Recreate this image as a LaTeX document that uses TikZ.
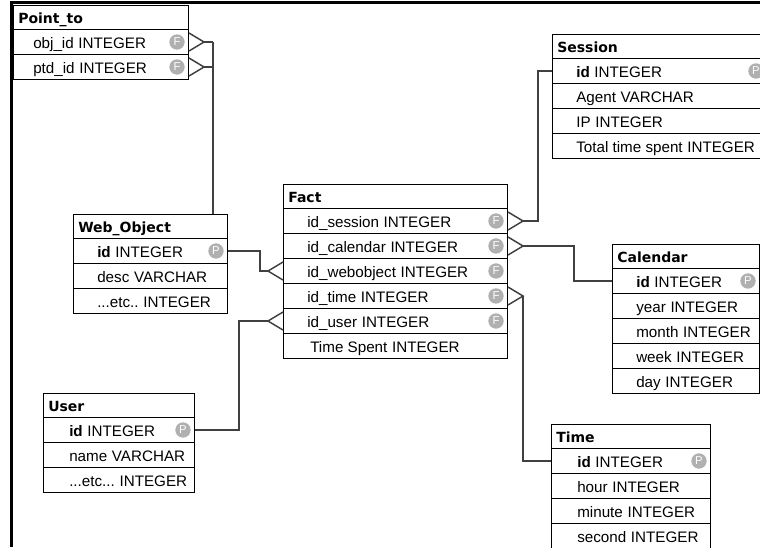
\documentclass[tikz,border=0pt]{standalone}
\usepackage{fontspec}
\setmainfont{Liberation Sans}
\newfontfamily\headfont{DejaVu Sans}
\usetikzlibrary{calc}

% gap between a column name and its type
\newcommand\colgap{\hspace{3.5pt}}
% left indent of the column rows (px), set per table
\newcommand\rowind{24}

% table header: name, x, y, width, title
\newcommand\tblhead[5]{%
  \node[headbox, minimum width=#4*0.75pt] (#1) at (#2,#3) {};
  \node[headtext] (#1-t) at ([xshift=5*0.75pt, yshift=-4.2pt]#1.west) {#5};}
% table row: name, x, y, width, text, key letter (may be empty)
\newcommand\tblrow[6]{%
  \node[box, minimum width=#4*0.75pt] (#1) at (#2,#3) {};
  \node[rowtext] (#1-t) at ([xshift=\rowind*0.75pt, yshift=-4.6pt]#1.west) {#5};
  \if\relax\detokenize{#6}\relax\else
    \node[keymark] (#1-k) at ([xshift=-12*0.75pt]#1.east) {#6};\fi}
% crow's foot on the right / left side of a row, tip named #2
\newcommand\crowR[2]{%
  \coordinate (#2) at ([xshift=11.25pt]#1.east);
  \draw[conn] ([yshift=6.75pt]#1.east) -- (#2) -- ([yshift=-6.75pt]#1.east);}
\newcommand\crowL[2]{%
  \coordinate (#2) at ([xshift=-11.25pt]#1.west);
  \draw[conn] ([yshift=6.75pt]#1.west) -- (#2) -- ([yshift=-6.75pt]#1.west);}

\begin{document}
\begin{tikzpicture}[x=0.75pt,y=-0.75pt,
  box/.style={draw=black, line width=0.75pt, fill=white, anchor=north west,
    inner sep=0pt, minimum height=18.75pt},
  headbox/.style={box, minimum height=18pt},
  headtext/.style={anchor=base west, inner sep=0pt,
    font=\headfont\bfseries\fontsize{10.5}{12}\selectfont},
  rowtext/.style={anchor=base west, inner sep=0pt, font=\fontsize{11.4}{13}\selectfont},
  keymark/.style={circle, fill=gray!62, text=white, inner sep=0pt,
    minimum size=11.5pt, font=\fontsize{8.5}{8.5}\selectfont},
  conn/.style={draw=black!75, line width=1.1pt}]
\useasboundingbox (0,0) rectangle (760,547);

% Point_to
\renewcommand\rowind{20}
\tblhead{pt-h}{13}{5}{175}{Point\_to}
\tblrow{pt-1}{13}{29}{175}{obj\_id\colgap INTEGER}{F}
\tblrow{pt-2}{13}{54}{175}{ptd\_id\colgap INTEGER}{F}

% Session
\renewcommand\rowind{24}
\tblhead{se-h}{552}{34}{215}{Session}
\tblrow{se-1}{552}{58}{215}{\textbf{id}\colgap INTEGER}{P}
\tblrow{se-2}{552}{83}{215}{Agent\colgap VARCHAR}{}
\tblrow{se-3}{552}{108}{215}{IP\colgap INTEGER}{}
\tblrow{se-4}{552}{133}{215}{Total time spent\colgap INTEGER}{}

% Fact
\tblhead{fa-h}{283}{184}{224}{Fact}
\tblrow{fa-1}{283}{208}{224}{id\_session\colgap INTEGER}{F}
\tblrow{fa-2}{283}{233}{224}{id\_calendar\colgap INTEGER}{F}
\tblrow{fa-3}{283}{258}{224}{id\_webobject\colgap INTEGER}{F}
\tblrow{fa-4}{283}{283}{224}{id\_time\colgap INTEGER}{F}
\tblrow{fa-5}{283}{308}{224}{id\_user\colgap INTEGER}{F}
\renewcommand\rowind{27}
\tblrow{fa-6}{283}{333}{224}{Time Spent\colgap INTEGER}{}

% Web_Object
\renewcommand\rowind{24}
\tblhead{wo-h}{73}{214}{154}{Web\_Object}
\tblrow{wo-1}{73}{238}{154}{\textbf{id}\colgap INTEGER}{P}
\tblrow{wo-2}{73}{263}{154}{desc\colgap VARCHAR}{}
\tblrow{wo-3}{73}{288}{154}{...etc..\colgap INTEGER}{}

% Calendar
\tblhead{ca-h}{612}{244}{147}{Calendar}
\tblrow{ca-1}{612}{268}{147}{\textbf{id}\colgap INTEGER}{P}
\tblrow{ca-2}{612}{293}{147}{year\colgap INTEGER}{}
\tblrow{ca-3}{612}{318}{147}{month\colgap INTEGER}{}
\tblrow{ca-4}{612}{343}{147}{week\colgap INTEGER}{}
\tblrow{ca-5}{612}{368}{147}{day\colgap INTEGER}{}

% User
\renewcommand\rowind{26}
\tblhead{us-h}{43}{393}{151}{User}
\tblrow{us-1}{43}{417}{151}{\textbf{id}\colgap INTEGER}{P}
\tblrow{us-2}{43}{442}{151}{name\colgap VARCHAR}{}
\tblrow{us-3}{43}{467}{151}{...etc...\colgap INTEGER}{}

% Time
\tblhead{ti-h}{551}{424}{159}{Time}
\tblrow{ti-1}{551}{448}{159}{\textbf{id}\colgap INTEGER}{P}
\tblrow{ti-2}{551}{473}{159}{hour\colgap INTEGER}{}
\tblrow{ti-3}{551}{498}{159}{minute\colgap INTEGER}{}
\tblrow{ti-4}{551}{523}{159}{second\colgap INTEGER}{}

% crow's feet (many side)
\crowR{pt-1}{pt1tip}
\crowR{pt-2}{pt2tip}
\crowR{fa-1}{fa1tip}
\crowR{fa-2}{fa2tip}
\crowL{fa-3}{fa3tip}
\crowR{fa-4}{fa4tip}
\crowL{fa-5}{fa5tip}

% relations
\coordinate (ptj) at (213,0);
\draw[conn] (pt1tip) -- (pt1tip -| ptj);
\draw[conn] (pt2tip) -- (pt2tip -| ptj);
\draw[conn] (pt1tip -| ptj) -- (wo-h.north -| ptj);
\draw[conn] (wo-1.east) -- ++(32,0) |- (fa3tip);
\draw[conn] (us-1.east) -- ++(44,0) |- (fa5tip);
\draw[conn] (fa1tip) -- ++(15,0) |- (se-1.west);
\draw[conn] (fa2tip) -- ++(51,0) |- (ca-1.west);
\draw[conn] (fa4tip) |- (ti-1.west);

% window frame
\draw[line width=2.25pt, black] (11.5,547) -- (11.5,2.5) -- (760,2.5);
\end{tikzpicture}
\end{document}
